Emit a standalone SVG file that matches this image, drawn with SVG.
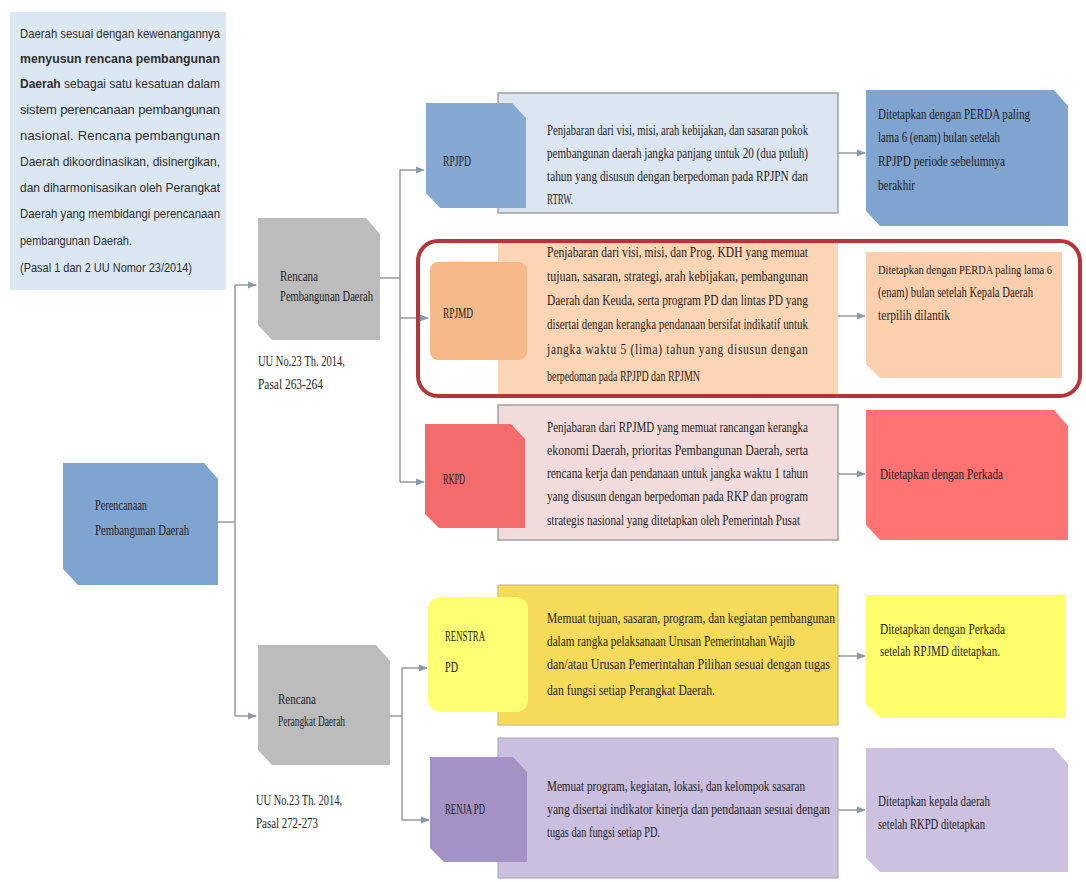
<svg xmlns="http://www.w3.org/2000/svg" width="1086" height="882" viewBox="0 0 1086 882">
<style>
.t{font-family:"Liberation Serif",serif;font-size:14px;fill:#1e1e1e}
.s{font-family:"Liberation Sans",sans-serif;font-size:13px;fill:#2e2e2e}
.b{font-weight:bold}
.sm{font-size:12px}
.ln{fill:none;stroke:#9a9a9a;stroke-width:1.5}
</style>
<defs>
<marker id="ar" viewBox="0 0 10 10" refX="9" refY="5" markerWidth="6" markerHeight="6" orient="auto"><path d="M0,1 L10,5 L0,9 Z" fill="#8a9aa8"/></marker>
</defs>
<rect width="1086" height="882" fill="#ffffff"/>

<g id="intro">
<rect x="10" y="12" width="216" height="278" fill="#dbe8f2"/>
<text class="s" x="20" y="38" textLength="200" lengthAdjust="spacingAndGlyphs">Daerah sesuai dengan kewenangannya</text>
<text class="s b" x="20" y="63" textLength="200" lengthAdjust="spacingAndGlyphs">menyusun rencana pembangunan</text>
<text class="s" x="20" y="88" textLength="200" lengthAdjust="spacingAndGlyphs"><tspan class="b">Daerah</tspan> sebagai satu kesatuan dalam</text>
<text class="s" x="20" y="114" textLength="200" lengthAdjust="spacing">sistem perencanaan pembangunan</text>
<text class="s" x="20" y="140" textLength="200" lengthAdjust="spacing">nasional. Rencana pembangunan</text>
<text class="s" x="20" y="166" textLength="200" lengthAdjust="spacingAndGlyphs">Daerah dikoordinasikan, disinergikan,</text>
<text class="s" x="20" y="192" textLength="200" lengthAdjust="spacingAndGlyphs">dan diharmonisasikan oleh Perangkat</text>
<text class="s" x="20" y="218" textLength="200" lengthAdjust="spacingAndGlyphs">Daerah yang membidangi perencanaan</text>
<text class="s" x="20" y="245" textLength="112" lengthAdjust="spacingAndGlyphs">pembangunan Daerah.</text>
<text class="s" x="20" y="272" textLength="172" lengthAdjust="spacingAndGlyphs">(Pasal 1 dan 2 UU Nomor 23/2014)</text>
</g>

<g id="connectors">
<path class="ln" d="M218,522 H235"/>
<path class="ln" d="M235,285 V716"/>
<path class="ln" d="M235,285 H256" marker-end="url(#ar)"/>
<path class="ln" d="M235,716 H256" marker-end="url(#ar)"/>
<path class="ln" d="M380,278 H400"/>
<path class="ln" d="M400,170 V482"/>
<path class="ln" d="M400,170 H424" marker-end="url(#ar)"/>
<path class="ln" d="M400,318 H428" marker-end="url(#ar)"/>
<path class="ln" d="M400,482 H424" marker-end="url(#ar)"/>
<path class="ln" d="M390,716 H402"/>
<path class="ln" d="M402,668 V820"/>
<path class="ln" d="M402,668 H427" marker-end="url(#ar)"/>
<path class="ln" d="M402,820 H429" marker-end="url(#ar)"/>
<path class="ln" d="M838,153 H865" marker-end="url(#ar)"/>
<path class="ln" d="M838,316 H865" marker-end="url(#ar)"/>
<path class="ln" d="M838,474 H865" marker-end="url(#ar)"/>
<path class="ln" d="M838,656 H865" marker-end="url(#ar)"/>
<path class="ln" d="M838,810 H865" marker-end="url(#ar)"/>
</g>

<g id="perencanaan">
<path d="M63,463 H204 L218,479 V585 H78 L63,569 Z" fill="#7ea4cf"/>
<text class="t" x="95" y="510" textLength="52" lengthAdjust="spacingAndGlyphs">Perencanaan</text>
<text class="t" x="95" y="535" textLength="94" lengthAdjust="spacingAndGlyphs">Pembangunan Daerah</text>
</g>

<g id="rencana-pembangunan">
<path d="M258,218 H366 L380,234 V340 H272 L258,325 Z" fill="#bcbcbc"/>
<text class="t" x="280" y="281" textLength="38" lengthAdjust="spacingAndGlyphs">Rencana</text>
<text class="t" x="280" y="301" textLength="93" lengthAdjust="spacingAndGlyphs">Pembangunan Daerah</text>
<text class="t" x="258" y="366" textLength="87" lengthAdjust="spacingAndGlyphs">UU No.23 Th. 2014,</text>
<text class="t" x="258" y="389" textLength="65" lengthAdjust="spacingAndGlyphs">Pasal 263-264</text>
</g>

<g id="rencana-perangkat">
<path d="M258,645 H376 L390,661 V765 H272 L258,750 Z" fill="#bcbcbc"/>
<text class="t" x="278" y="704" textLength="38" lengthAdjust="spacingAndGlyphs">Rencana</text>
<text class="t" x="278" y="726" textLength="67" lengthAdjust="spacingAndGlyphs">Perangkat Daerah</text>
<text class="t" x="256" y="805" textLength="86" lengthAdjust="spacingAndGlyphs">UU No.23 Th. 2014,</text>
<text class="t" x="256" y="828" textLength="62" lengthAdjust="spacingAndGlyphs">Pasal 272-273</text>
</g>

<g id="rpjpd">
<rect x="498" y="93" width="340" height="120" fill="#dce6f1" stroke="#a0a0a0" stroke-width="1.5"/>
<path d="M426,103 H512 L526,118 V208 H440 L426,193 Z" fill="#86a9d3"/>
<text class="t" x="443" y="166" textLength="28" lengthAdjust="spacingAndGlyphs">RPJPD</text>
<text class="t" x="547" y="135" textLength="261" lengthAdjust="spacingAndGlyphs">Penjabaran dari visi, misi, arah kebijakan, dan sasaran pokok</text>
<text class="t" x="547" y="158" textLength="261" lengthAdjust="spacingAndGlyphs">pembangunan daerah jangka panjang untuk 20 (dua puluh)</text>
<text class="t" x="547" y="181" textLength="261" lengthAdjust="spacingAndGlyphs">tahun yang disusun dengan berpedoman pada  RPJPN dan</text>
<text class="t" x="547" y="204" textLength="26" lengthAdjust="spacingAndGlyphs">RTRW.</text>
<path d="M866,90 H1054 L1068,106 V226 H880 L866,211 Z" fill="#7ea4cf"/>
<text class="t" x="878" y="119" textLength="152" lengthAdjust="spacingAndGlyphs">Ditetapkan dengan PERDA paling</text>
<text class="t" x="878" y="142" textLength="122" lengthAdjust="spacingAndGlyphs">lama 6 (enam) bulan  setelah</text>
<text class="t" x="878" y="166" textLength="127" lengthAdjust="spacingAndGlyphs">RPJPD periode sebelumnya</text>
<text class="t" x="878" y="190" textLength="37" lengthAdjust="spacingAndGlyphs">berakhir</text>
</g>

<g id="rpjmd">
<rect x="498" y="242" width="340" height="153" fill="#fcd5b5"/>
<rect x="430" y="262" width="97" height="98" rx="8" fill="#f7b98a"/>
<text class="t" x="443" y="318" textLength="30" lengthAdjust="spacingAndGlyphs">RPJMD</text>
<text class="t" x="547" y="257" textLength="261" lengthAdjust="spacingAndGlyphs">Penjabaran dari visi, misi, dan Prog. KDH yang memuat</text>
<text class="t" x="547" y="281" textLength="261" lengthAdjust="spacingAndGlyphs">tujuan, sasaran, strategi, arah kebijakan, pembangunan</text>
<text class="t" x="547" y="305" textLength="261" lengthAdjust="spacingAndGlyphs">Daerah dan Keuda, serta program PD dan lintas PD yang</text>
<text class="t" x="547" y="329" textLength="261" lengthAdjust="spacingAndGlyphs">disertai dengan kerangka pendanaan bersifat indikatif untuk</text>
<text class="t" transform="translate(547,354) scale(0.82,1)" x="0" y="0" textLength="318" lengthAdjust="spacing">jangka waktu 5 (lima) tahun yang disusun dengan</text>
<text class="t" x="547" y="381" textLength="153" lengthAdjust="spacingAndGlyphs">berpedoman pada RPJPD dan RPJMN</text>
<path d="M866,252 H1062 V378 H880 L866,364 Z" fill="#fcd0ae"/>
<text class="t sm" x="878" y="274" textLength="174" lengthAdjust="spacingAndGlyphs">Ditetapkan dengan PERDA paling lama 6</text>
<text class="t" x="878" y="297" textLength="155" lengthAdjust="spacingAndGlyphs">(enam) bulan  setelah Kepala Daerah</text>
<text class="t" x="878" y="320" textLength="72" lengthAdjust="spacingAndGlyphs">terpilih dilantik</text>
<rect x="418" y="241" width="662" height="155" rx="20" fill="none" stroke="#b5363a" stroke-width="4"/>
</g>

<g id="rkpd">
<rect x="498" y="405" width="340" height="135" fill="#f2dcdb" stroke="#a0a0a0" stroke-width="1.5"/>
<path d="M425,424 H511 L525,439 V528 H439 L425,514 Z" fill="#f46b6b"/>
<text class="t" x="443" y="484" textLength="22" lengthAdjust="spacingAndGlyphs">RKPD</text>
<text class="t" x="547" y="432" textLength="261" lengthAdjust="spacingAndGlyphs">Penjabaran dari RPJMD yang memuat rancangan kerangka</text>
<text class="t" x="547" y="455" textLength="261" lengthAdjust="spacingAndGlyphs">ekonomi Daerah, prioritas Pembangunan Daerah, serta</text>
<text class="t" x="547" y="478" textLength="261" lengthAdjust="spacingAndGlyphs">rencana kerja dan pendanaan untuk jangka waktu 1 tahun</text>
<text class="t" x="547" y="501" textLength="261" lengthAdjust="spacingAndGlyphs">yang disusun dengan berpedoman pada RKP dan program</text>
<text class="t" x="547" y="525" textLength="253" lengthAdjust="spacingAndGlyphs">strategis nasional yang ditetapkan oleh Pemerintah Pusat</text>
<path d="M866,410 H1054 L1068,426 V540 H880 L866,525 Z" fill="#ff7373"/>
<text class="t" x="880" y="479" textLength="123" lengthAdjust="spacingAndGlyphs">Ditetapkan dengan Perkada</text>
</g>

<g id="renstra">
<rect x="498" y="585" width="340" height="140" fill="#f6da5a" stroke="#c8b070" stroke-width="1"/>
<rect x="428" y="597" width="100" height="115" rx="12" fill="#ffff72"/>
<text class="t" x="445" y="641" textLength="40" lengthAdjust="spacingAndGlyphs">RENSTRA</text>
<text class="t" x="445" y="672" textLength="13" lengthAdjust="spacingAndGlyphs">PD</text>
<text class="t" x="547" y="623" textLength="288" lengthAdjust="spacingAndGlyphs">Memuat tujuan, sasaran, program, dan kegiatan pembangunan</text>
<text class="t" x="547" y="646" textLength="248" lengthAdjust="spacingAndGlyphs">dalam rangka pelaksanaan Urusan Pemerintahan Wajib</text>
<text class="t" x="547" y="669" textLength="283" lengthAdjust="spacingAndGlyphs">dan/atau Urusan Pemerintahan Pilihan sesuai dengan tugas</text>
<text class="t" x="547" y="695" textLength="168" lengthAdjust="spacingAndGlyphs">dan fungsi setiap Perangkat Daerah.</text>
<path d="M866,595 H1066 V718 H880 L866,704 Z" fill="#ffff6b"/>
<text class="t" x="880" y="634" textLength="125" lengthAdjust="spacingAndGlyphs">Ditetapkan dengan Perkada</text>
<text class="t" x="880" y="656" textLength="120" lengthAdjust="spacingAndGlyphs">setelah RPJMD ditetapkan.</text>
</g>

<g id="renja">
<rect x="498" y="738" width="340" height="140" fill="#cbbfe0" stroke="#a8a0b8" stroke-width="1"/>
<path d="M430,757 H513 L527,772 V862 H444 L430,848 Z" fill="#a592c4"/>
<text class="t" x="445" y="814" textLength="40" lengthAdjust="spacingAndGlyphs">RENJA PD</text>
<text class="t" x="547" y="791" textLength="258" lengthAdjust="spacingAndGlyphs">Memuat program, kegiatan, lokasi, dan kelompok sasaran</text>
<text class="t" x="547" y="814" textLength="283" lengthAdjust="spacingAndGlyphs">yang disertai indikator kinerja dan pendanaan sesuai dengan</text>
<text class="t" x="547" y="837" textLength="113" lengthAdjust="spacingAndGlyphs">tugas dan fungsi setiap PD.</text>
<path d="M866,748 H1054 L1068,764 V872 H880 L866,858 Z" fill="#cdc1e0"/>
<text class="t" x="878" y="806" textLength="112" lengthAdjust="spacingAndGlyphs">Ditetapkan kepala daerah</text>
<text class="t" x="878" y="829" textLength="107" lengthAdjust="spacingAndGlyphs">setelah RKPD ditetapkan</text>
</g>
</svg>
